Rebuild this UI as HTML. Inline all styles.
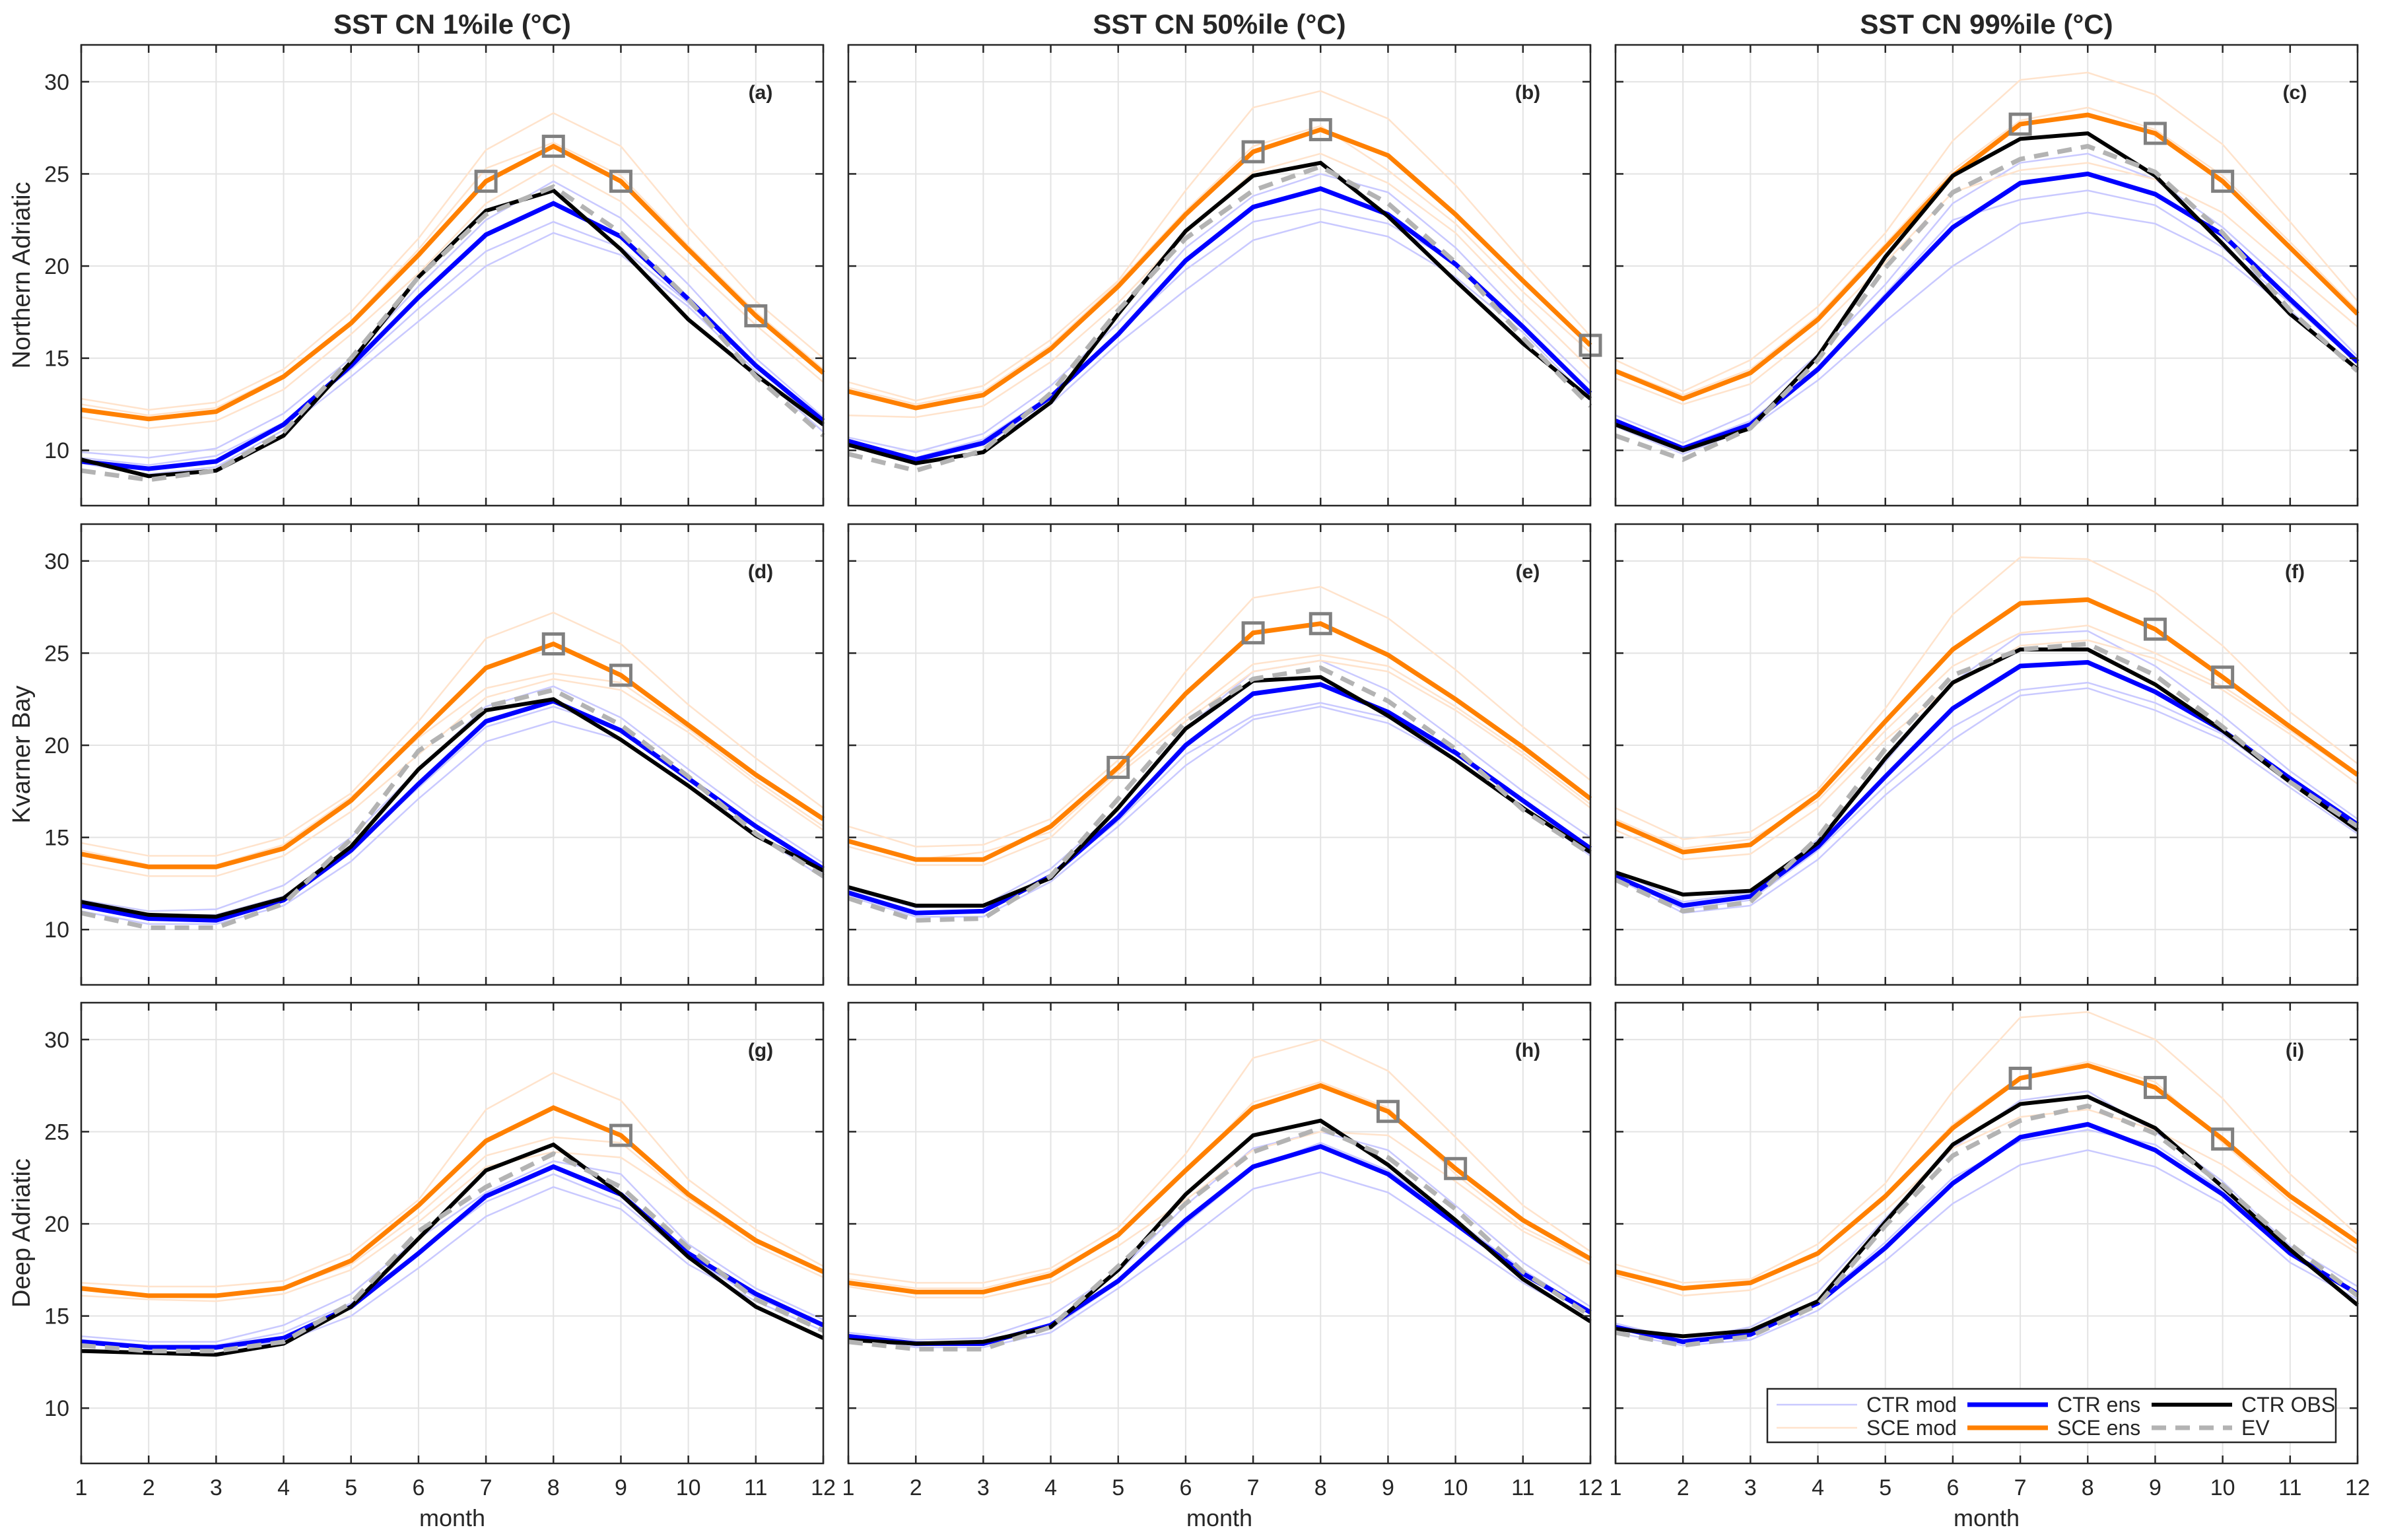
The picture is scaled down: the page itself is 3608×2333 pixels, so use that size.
<!DOCTYPE html>
<html><head><meta charset="utf-8"><style>
html,body{margin:0;padding:0;background:#fff;}
svg{display:block;}
text{font-family:"Liberation Sans Narrow","Liberation Sans",sans-serif;fill:#262626;}
</style></head><body>
<svg id="fig" width="3608" height="2333" viewBox="0 0 3608 2333" xmlns="http://www.w3.org/2000/svg"></svg>
<script>
const months = [1,2,3,4,5,6,7,8,9,10,11,12];
const yTicks = [10,15,20,25,30];
const colTitles = ["SST CN 1%ile (°C)","SST CN 50%ile (°C)","SST CN 99%ile (°C)"];
const rowTitles = ["Northern Adriatic","Kvarner Bay","Deep Adriatic"];
const panelLetters = ["(a)","(b)","(c)","(d)","(e)","(f)","(g)","(h)","(i)"];
const ctrEns = [
 [9.4,9.0,9.4,11.4,14.6,18.3,21.7,23.4,21.6,18.2,14.6,11.6],
 [10.5,9.5,10.4,12.9,16.3,20.3,23.2,24.2,22.8,20.1,16.7,13.1],
 [11.6,10.1,11.4,14.4,18.3,22.1,24.5,25.0,23.9,21.7,18.2,14.8],
 [11.3,10.6,10.5,11.6,14.3,17.9,21.3,22.4,20.8,18.2,15.6,13.3],
 [12.0,10.9,11.0,12.9,16.1,20.0,22.8,23.3,21.8,19.6,17.0,14.4],
 [12.9,11.3,11.8,14.5,18.3,22.0,24.3,24.5,22.9,20.8,18.2,15.7],
 [13.6,13.3,13.3,13.8,15.5,18.4,21.5,23.1,21.6,18.4,16.2,14.5],
 [13.9,13.5,13.5,14.5,16.9,20.2,23.1,24.2,22.7,20.0,17.3,15.2],
 [14.4,13.6,14.0,15.7,18.7,22.2,24.7,25.4,24.0,21.6,18.4,16.2]];
const sceEns = [
 [12.2,11.7,12.1,14.0,16.9,20.6,24.6,26.5,24.6,20.9,17.3,14.2],
 [13.2,12.3,13.0,15.5,18.9,22.8,26.2,27.4,26.0,22.8,19.2,15.7],
 [14.3,12.8,14.2,17.1,21.0,24.9,27.7,28.2,27.2,24.6,21.0,17.4],
 [14.1,13.4,13.4,14.4,17.0,20.6,24.2,25.5,23.8,21.1,18.4,16.0],
 [14.8,13.8,13.8,15.6,18.8,22.8,26.1,26.6,24.9,22.5,19.9,17.1],
 [15.8,14.2,14.6,17.3,21.3,25.2,27.7,27.9,26.3,23.7,21.0,18.4],
 [16.5,16.1,16.1,16.5,18.0,21.0,24.5,26.3,24.8,21.6,19.1,17.4],
 [16.8,16.3,16.3,17.2,19.4,22.9,26.3,27.5,26.1,23.0,20.2,18.1],
 [17.4,16.5,16.8,18.4,21.5,25.2,27.9,28.6,27.4,24.6,21.5,19.0]];
const ctrObs = [
 [9.5,8.6,8.9,10.8,14.8,19.4,23.0,24.1,20.9,17.1,14.1,11.4],
 [10.3,9.3,9.9,12.6,17.4,21.9,24.9,25.6,22.7,19.2,15.8,12.8],
 [11.4,10.0,11.2,15.1,20.5,24.9,26.9,27.2,24.9,21.2,17.4,14.4],
 [11.5,10.8,10.7,11.7,14.5,18.7,21.9,22.5,20.3,17.8,15.1,13.2],
 [12.3,11.3,11.3,12.8,16.6,20.9,23.5,23.7,21.6,19.2,16.6,14.2],
 [13.1,11.9,12.1,14.7,19.3,23.4,25.2,25.2,23.3,20.8,18.0,15.4],
 [13.1,13.0,12.9,13.5,15.5,19.2,22.9,24.3,21.6,18.2,15.5,13.8],
 [13.7,13.5,13.6,14.4,17.5,21.6,24.8,25.6,23.2,20.2,17.0,14.7],
 [14.3,13.9,14.2,15.8,20.1,24.3,26.5,26.9,25.2,22.0,18.6,15.6]];
const evLine = [
 [8.9,8.4,8.9,11.0,15.0,19.4,22.8,24.3,21.8,18.2,14.0,10.8],
 [9.8,8.9,10.0,13.1,17.6,21.5,24.1,25.4,23.4,20.2,16.1,12.4],
 [10.8,9.5,11.2,14.9,19.9,24.0,25.8,26.5,25.1,21.8,17.6,14.3],
 [10.9,10.1,10.1,11.4,14.9,19.7,22.1,23.0,21.1,18.3,15.2,12.9],
 [11.7,10.5,10.6,12.9,17.1,21.3,23.6,24.2,22.4,19.8,16.5,14.1],
 [12.7,11.0,11.5,15.0,19.8,23.8,25.2,25.5,23.8,21.0,18.0,15.6],
 [13.4,13.1,13.1,13.6,15.7,19.6,22.0,23.8,22.0,18.7,15.9,14.2],
 [13.6,13.2,13.2,14.4,17.7,21.1,23.9,25.2,23.6,20.8,17.4,15.0],
 [14.1,13.4,13.9,15.6,19.9,23.7,25.6,26.4,24.9,22.1,18.9,16.1]];
const ctrModHi = [
 [9.9,9.6,10.1,12.0,15.0,18.9,22.5,24.6,22.6,19.0,15.0,11.8],
 [10.7,9.9,10.9,13.5,16.9,21.0,23.8,25.0,24.0,21.0,17.2,13.6],
 [11.9,10.4,12.0,15.2,19.0,23.4,25.6,26.1,24.7,22.1,18.8,15.1],
 [11.6,11.0,11.1,12.4,15.0,18.7,22.1,23.2,21.5,18.7,16.0,13.6],
 [12.2,11.2,11.3,13.3,16.5,20.9,24.0,24.6,23.0,20.3,17.5,15.0],
 [13.2,11.5,12.0,14.9,19.1,23.4,26.0,26.2,24.3,21.6,18.6,16.0],
 [13.9,13.6,13.6,14.5,16.2,19.2,21.7,23.4,22.7,18.9,16.5,14.8],
 [14.1,13.7,13.8,15.0,17.4,21.0,24.1,25.0,24.0,21.0,17.9,15.5],
 [14.6,13.7,14.4,16.3,20.3,24.1,26.7,27.2,25.0,22.3,18.8,16.6]];
const ctrModMid = [
 [9.6,9.2,9.7,11.5,14.4,17.7,20.8,22.4,21.0,18.0,14.6,11.3],
 [10.5,9.6,10.6,13.0,16.4,19.8,22.4,23.1,22.3,20.2,16.8,13.0],
 [11.7,10.2,11.6,14.5,18.5,22.5,23.6,24.1,23.3,21.0,18.0,14.7],
 [11.3,10.7,10.8,11.8,14.4,17.7,21.0,22.1,20.9,18.3,15.6,13.1],
 [12.0,10.9,11.0,12.9,15.9,19.5,21.6,22.3,21.5,19.5,16.9,14.2],
 [12.9,11.1,11.6,14.3,17.8,21.0,23.0,23.4,22.3,20.6,18.0,15.5],
 [13.7,13.4,13.4,14.1,15.7,18.5,21.2,22.7,21.2,18.2,16.0,14.5],
 [13.9,13.4,13.5,14.3,16.8,20.0,23.0,24.4,22.9,20.2,17.5,15.2],
 [14.3,13.5,13.9,15.8,19.0,22.5,24.5,25.1,24.3,21.8,18.3,16.2]];
const ctrModLo = [
 [9.3,8.7,9.1,11.1,14.0,17.0,20.0,21.8,20.6,17.8,14.3,11.0],
 [10.3,9.4,10.3,12.5,15.8,18.7,21.4,22.4,21.6,19.4,16.4,12.7],
 [11.3,9.8,11.2,13.8,17.0,20.0,22.3,22.9,22.3,20.5,17.6,14.3],
 [11.0,10.3,10.3,11.3,13.7,17.1,20.2,21.3,20.3,17.8,15.2,12.8],
 [11.8,10.7,10.7,12.6,15.6,18.9,21.4,22.1,21.2,19.2,16.7,14.0],
 [12.8,10.9,11.3,13.8,17.3,20.3,22.7,23.1,21.9,20.3,17.7,15.2],
 [13.5,13.2,13.2,13.6,15.0,17.6,20.4,22.0,20.8,17.8,15.8,14.2],
 [13.8,13.3,13.3,14.1,16.5,19.1,21.9,22.8,21.7,19.3,16.8,14.8],
 [14.1,13.4,13.7,15.3,18.0,21.1,23.2,24.0,23.1,21.1,17.9,15.9]];
const sceModHi = [
 [12.8,12.2,12.6,14.4,17.5,21.5,26.3,28.3,26.5,22.1,18.1,15.0],
 [13.7,12.7,13.5,16.0,19.2,24.1,28.6,29.5,28.0,24.4,20.2,16.2],
 [14.9,13.2,14.9,17.8,21.8,26.8,30.1,30.5,29.3,26.6,22.4,18.1],
 [14.7,14.0,14.0,15.0,17.4,21.3,25.8,27.2,25.5,22.2,19.3,16.6],
 [15.6,14.5,14.6,16.0,19.2,24.0,28.0,28.6,26.9,24.1,21.0,18.1],
 [16.6,14.9,15.3,17.6,22.0,27.1,30.2,30.1,28.3,25.4,21.8,19.0],
 [16.8,16.6,16.6,16.9,18.4,21.3,26.2,28.2,26.7,22.4,19.7,17.7],
 [17.3,16.8,16.8,17.6,19.8,23.8,29.0,30.0,28.3,24.7,21.0,18.5],
 [17.8,16.8,17.0,18.9,22.2,27.2,31.2,31.5,30.0,26.8,22.7,19.4]];
const sceModMid = [
 [12.5,11.9,12.3,14.1,17.0,20.9,25.3,26.7,24.9,21.1,17.5,14.4],
 [13.4,12.5,13.2,15.7,19.1,23.0,26.5,27.6,25.2,22.3,18.6,15.3],
 [14.4,13.0,14.4,17.3,21.2,25.2,27.9,28.6,27.4,24.9,21.3,17.6],
 [14.3,13.5,13.5,14.6,17.2,20.4,23.1,23.9,23.4,20.9,18.1,15.6],
 [14.9,13.8,14.2,15.3,18.6,21.6,24.4,24.9,24.3,22.1,19.6,16.8],
 [16.0,14.4,14.9,17.0,20.8,24.3,26.1,26.5,25.0,23.2,20.8,18.3],
 [16.4,16.1,16.1,16.5,17.8,20.5,23.7,24.7,24.4,21.4,19.0,17.3],
 [17.0,16.5,16.5,17.4,19.4,22.8,26.6,27.7,26.3,22.7,19.8,18.0],
 [17.5,16.6,16.9,18.4,21.5,25.4,28.0,28.8,27.7,24.4,21.2,18.6]];
const sceModLo = [
 [11.8,11.2,11.6,13.3,16.3,19.6,23.4,25.5,23.5,20.2,16.8,13.7],
 [11.9,11.8,12.4,14.8,18.0,21.8,25.1,26.1,24.5,21.8,18.0,14.4],
 [13.9,12.5,13.6,16.5,20.2,24.0,25.2,25.6,24.7,22.9,19.8,16.7],
 [13.6,12.9,12.9,14.0,16.4,19.5,22.6,23.6,23.0,20.7,17.9,15.4],
 [14.5,13.5,13.5,15.0,18.4,21.3,24.0,24.6,24.0,21.9,19.4,16.6],
 [15.4,13.8,14.1,16.6,20.3,23.3,25.4,25.7,24.7,23.0,20.6,17.9],
 [16.1,15.9,15.8,16.2,17.5,20.1,23.1,23.9,23.6,21.2,18.8,17.1],
 [16.6,16.0,16.0,16.8,18.8,21.3,24.0,25.0,24.8,22.3,19.6,17.8],
 [17.2,16.1,16.4,17.9,20.7,24.1,25.8,26.2,25.1,23.2,20.7,18.4]];
const squareMonths = [[7,8,9,11],[7,8,12],[7,9,10],[8,9],[5,7,8],[9,10],[9],[9,10],[7,9,10]];

const NS = "http://www.w3.org/2000/svg";
const svg = document.getElementById("fig");
const colLeft = [123,1285,2447], rowTop = [68,794,1519], PW = 1124, PH = 698;
const yMin = 7, yMax = 32;
function mk(tag, attrs, parent){const e=document.createElementNS(NS,tag);for(const k in attrs)e.setAttribute(k,attrs[k]);(parent||svg).appendChild(e);return e;}

for (let c=0;c<3;c++){
  const t = mk("text",{x:colLeft[c]+PW/2,y:51,"text-anchor":"middle","font-size":42,"font-weight":"bold",style:"font-family:'Liberation Sans',sans-serif"});
  t.textContent = colTitles[c];
  
  
  const m = mk("text",{x:colLeft[c]+PW/2,y:2312,"text-anchor":"middle","font-size":36,style:"font-family:'Liberation Sans',sans-serif"});
  m.textContent = "month";
  
  
}
for (let r=0;r<3;r++){
  const cy = rowTop[r]+PH/2;
  const t = mk("text",{x:0,y:0,"text-anchor":"middle","font-size":38,transform:`translate(45,${cy}) rotate(-90)`,style:"font-family:'Liberation Sans',sans-serif"});
  t.textContent = rowTitles[r];
  
  
}

for (let r=0;r<3;r++) for (let c=0;c<3;c++){
  const p = r*3+c, L=colLeft[c], T=rowTop[r];
  const xs = m => L + (m-1)/11*PW;
  const ys = v => T + (yMax-v)/(yMax-yMin)*PH;
  const g = mk("g",{});
  
  
  mk("rect",{x:L,y:T,width:PW,height:PH,fill:"#fff"},g);
  months.forEach(m=>{ const gl=mk("line",{x1:xs(m),x2:xs(m),y1:T,y2:T+PH,stroke:"#e3e3e3","stroke-width":2},g);
     });
  yTicks.forEach(v=>{ const gl=mk("line",{x1:L,x2:L+PW,y1:ys(v),y2:ys(v),stroke:"#e3e3e3","stroke-width":2},g);
     });
  const path = (arr,attrs,name)=>{ const e=mk("polyline",Object.assign({points:arr.map((v,i)=>xs(months[i])+","+ys(v)).join(" "),fill:"none","stroke-linejoin":"miter"},attrs),g);
    
     return e;};
  [ctrModHi,ctrModMid,ctrModLo].forEach(s=>path(s[p],{stroke:"#c9c9ff","stroke-width":2.5},"ctr-mod-line"));
  [sceModHi,sceModMid,sceModLo].forEach(s=>path(s[p],{stroke:"#ffe3cc","stroke-width":2.5},"sce-mod-line"));
  path(sceEns[p],{stroke:"#ff8000","stroke-width":7},"sce-ens-line");
  path(ctrEns[p],{stroke:"#0000ff","stroke-width":7},"ctr-ens-line");
  path(ctrObs[p],{stroke:"#000","stroke-width":6},"ctr-obs-line");
  path(evLine[p],{stroke:"#b3b3b3","stroke-width":7,"stroke-dasharray":"22 14"},"ev-line");
  squareMonths[p].forEach(m=>{
    const v = sceEns[p][m-1];
    const sq = mk("rect",{x:xs(m)-15,y:ys(v)-15,width:30,height:30,fill:"none",stroke:"#808080","stroke-width":5},g);
    
    
  });
  months.forEach(m=>{ mk("line",{x1:xs(m),x2:xs(m),y1:T,y2:T+12,stroke:"#262626","stroke-width":2.5},g); mk("line",{x1:xs(m),x2:xs(m),y1:T+PH,y2:T+PH-12,stroke:"#262626","stroke-width":2.5},g);});
  yTicks.forEach(v=>{ mk("line",{x1:L,x2:L+12,y1:ys(v),y2:ys(v),stroke:"#262626","stroke-width":2.5},g); mk("line",{x1:L+PW,x2:L+PW-12,y1:ys(v),y2:ys(v),stroke:"#262626","stroke-width":2.5},g);});
  const bd = mk("rect",{x:L,y:T,width:PW,height:PH,fill:"none",stroke:"#262626","stroke-width":2.5},g);
  
  
  const lt = mk("text",{x:L+PW-95,y:T+82,"text-anchor":"middle","font-size":30,"font-weight":"bold",fill:"#000"},g);
  lt.textContent = panelLetters[p];
  
  
  if (c===0) yTicks.forEach(v=>{
    const t = mk("text",{x:L-18,y:ys(v)+12,"text-anchor":"end","font-size":34},g);
    t.textContent = v;
    
    
  });
  if (r===2) months.forEach(m=>{
    const t = mk("text",{x:xs(m),y:T+PH+48,"text-anchor":"middle","font-size":34},g);
    t.textContent = m;
    
    
  });
}

const lg = mk("g",{});


mk("rect",{x:2677,y:2104,width:861,height:81,fill:"#fff",stroke:"#262626","stroke-width":2.5},lg);
const legendLabels = ["CTR mod","CTR ens","CTR OBS","SCE mod","SCE ens","EV"];
const legendStyles = [
 {stroke:"#c9c9ff","stroke-width":2.5},{stroke:"#0000ff","stroke-width":7},{stroke:"#000","stroke-width":6},
 {stroke:"#ffe3cc","stroke-width":2.5},{stroke:"#ff8000","stroke-width":7},{stroke:"#b3b3b3","stroke-width":7,"stroke-dasharray":"22 14"}];
const legX = [2691,2980,3259], legY = [2128,2163];
legendLabels.forEach((lab,i)=>{
  const c=i%3, r=Math.floor(i/3);
  const e = mk("g",{},lg);
  
  
  mk("line",Object.assign({x1:legX[c],x2:legX[c]+122,y1:legY[r],y2:legY[r]},legendStyles[i]),e);
  const t = mk("text",{x:legX[c]+136,y:legY[r]+11,"font-size":32,fill:"#000"},e);
  t.textContent = lab;
});
</script>
</body></html>
